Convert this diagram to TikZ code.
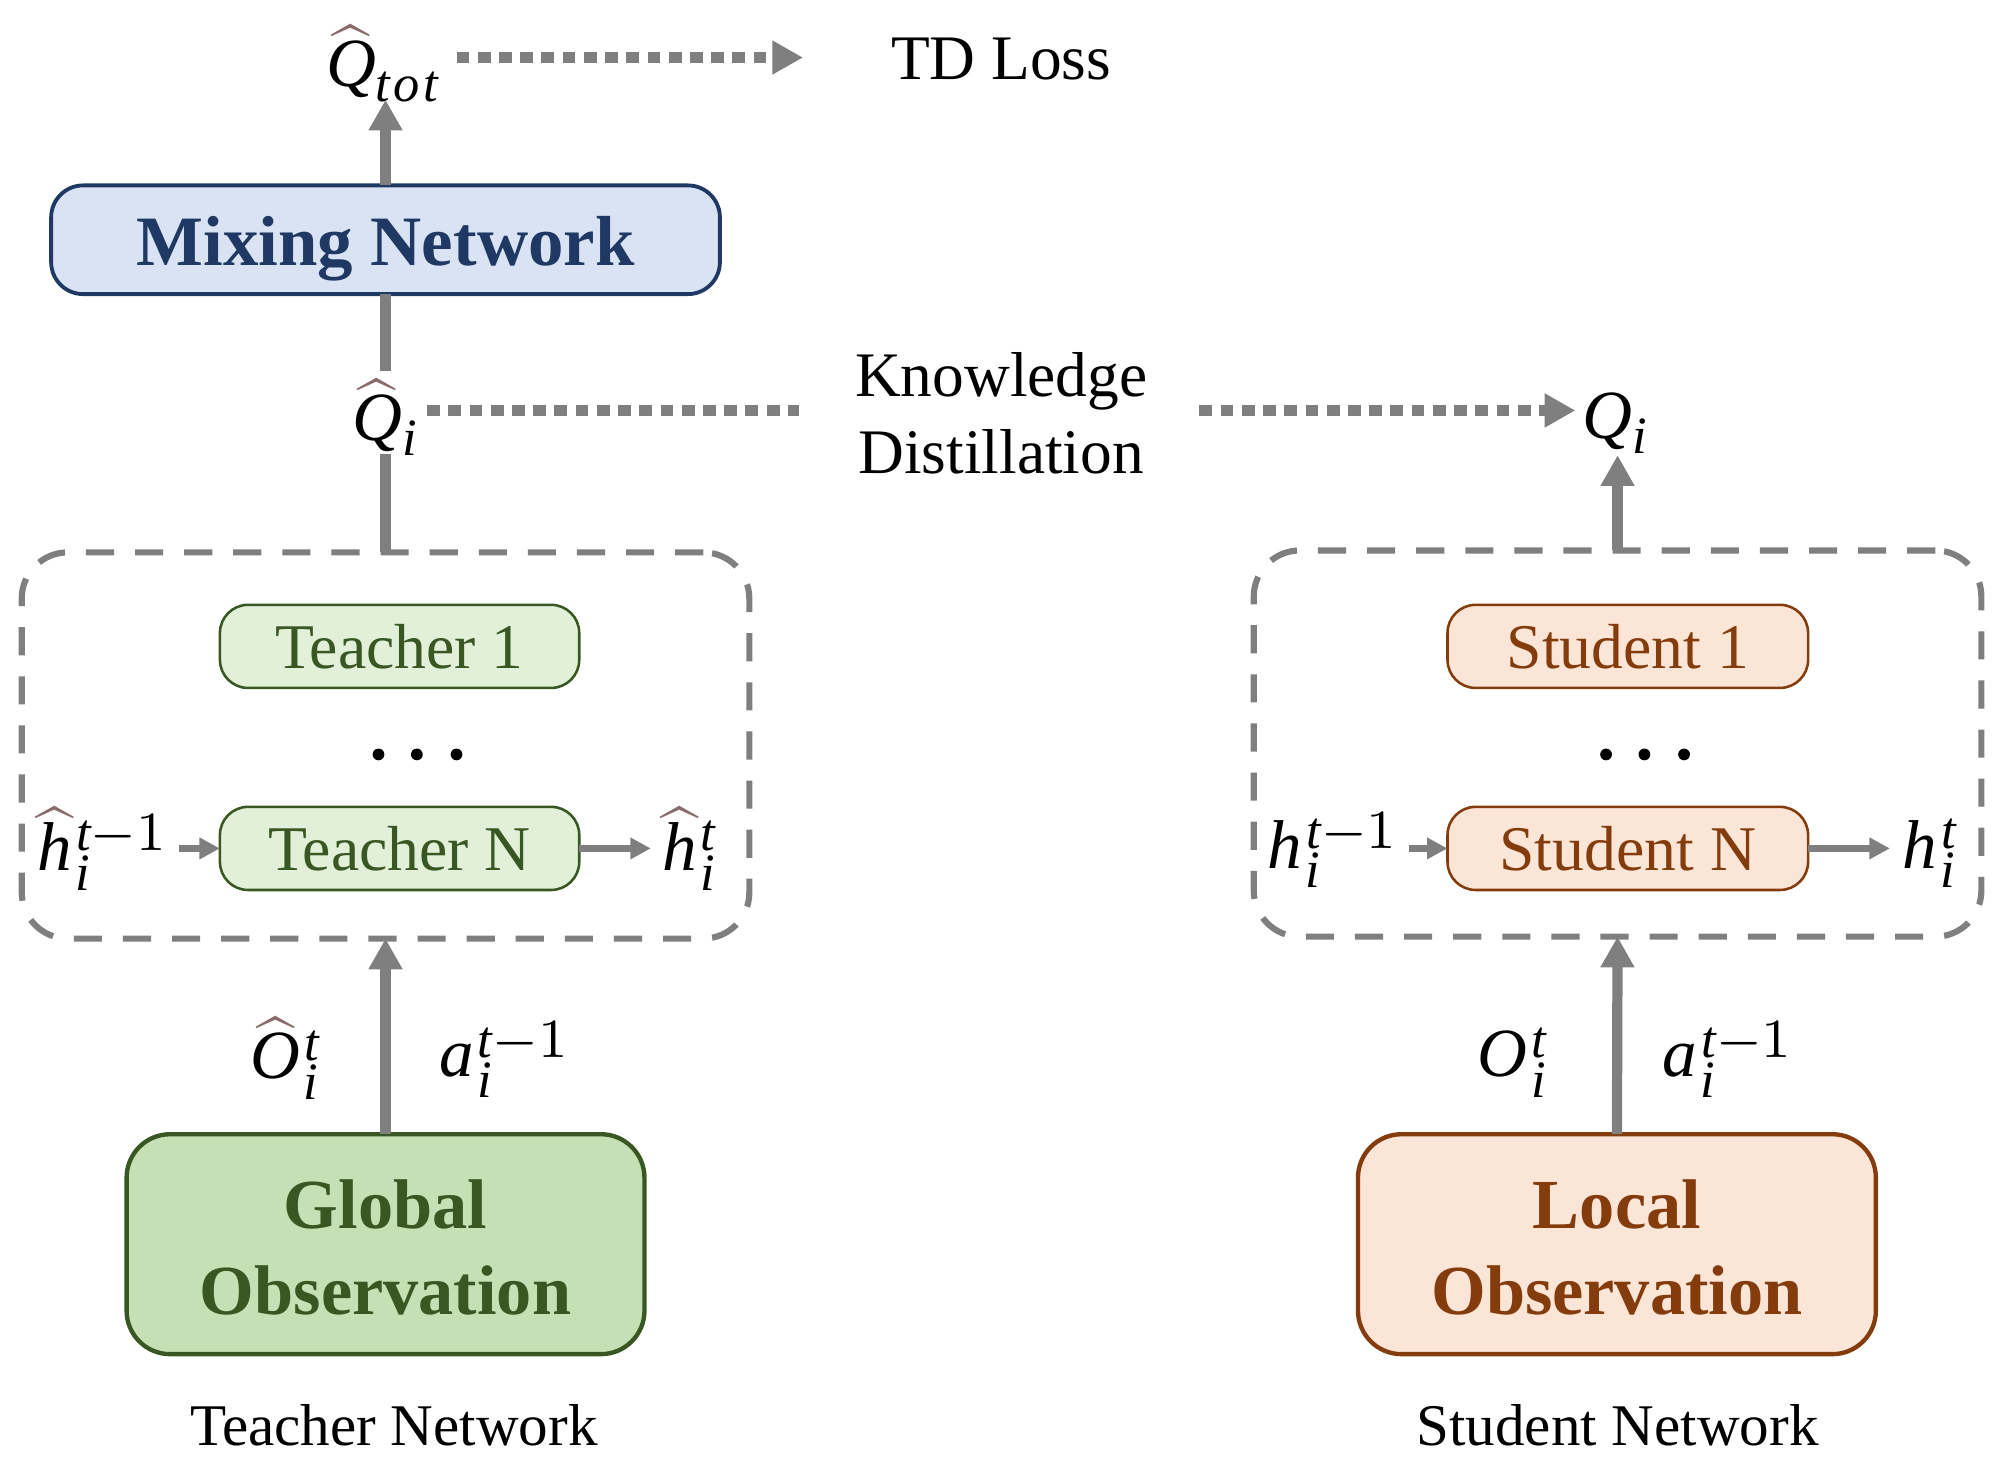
\documentclass[tikz,border=0pt]{standalone}
\usepackage{amsmath}
\usepackage{graphicx}
\usepackage{fontspec}
\setmainfont{Liberation Serif}
\usetikzlibrary{arrows.meta}
\DeclareMathSizes{10}{10}{7.6}{5.5}
\definecolor{navyc}{HTML}{1F3864}
\definecolor{navyf}{HTML}{DAE3F3}
\definecolor{greenc}{HTML}{385723}
\definecolor{greenf}{HTML}{E2F0D9}
\definecolor{greenF}{HTML}{C5E0B4}
\definecolor{brownc}{HTML}{843C0C}
\definecolor{brownf}{HTML}{FBE5D6}
\definecolor{arrowc}{HTML}{7F7F7F}
\definecolor{hatc}{HTML}{8A6A6A}
\newcommand{\hatit}[1]{\rlap{\raisebox{-0.7pt}{$\textcolor{hatc}{\widehat{\phantom{\textit{#1}}}}$}}\textit{#1}}
\newcommand{\mv}[1]{\scalebox{2.7}{$#1$}}
\newcommand{\ti}[1]{\textit{#1}}
\newcommand{\su}[1]{\kern0.6pt\raisebox{-0.9pt}[1ex][0pt]{$\scriptstyle #1$}}
\newcommand{\lowi}[1]{\kern0.5pt\ti{#1}}
\tikzset{
  mathnode/.style={inner sep=0pt,outer sep=0pt},
  lab/.style={inner sep=0pt,outer sep=0pt,font=\fontsize{24.8}{30}\selectfont,align=center},
  caption/.style={inner sep=0pt,outer sep=0pt,font=\fontsize{23.1}{28}\selectfont},
  mixbox/.style={draw=navyc,fill=navyf,line width=1.5pt,rounded corners=12.5pt,minimum width=261.5pt,minimum height=42.5pt,inner sep=0pt,outer sep=0pt,text=navyc,text height=20.5pt,text depth=0pt,font=\fontsize{27.7}{33}\selectfont\bfseries},
  tsmall/.style={draw=greenc,fill=greenf,line width=1pt,rounded corners=11pt,minimum width=140.5pt,minimum height=32.5pt,inner sep=0pt,outer sep=0pt,text=greenc,font=\fontsize{24.9}{29}\selectfont},
  ssmall/.style={draw=brownc,fill=brownf,line width=1pt,rounded corners=11pt,minimum width=141pt,minimum height=32.5pt,inner sep=0pt,outer sep=0pt,text=brownc,font=\fontsize{24.9}{29}\selectfont},
  tbig/.style={draw=greenc,fill=greenF,line width=1.7pt,rounded corners=17pt,minimum width=202.5pt,minimum height=86pt,inner sep=0pt,outer sep=0pt,text=greenc,align=center,text depth=0pt,text height=55pt,font=\fontsize{27.5}{33.5}\selectfont\bfseries},
  sbig/.style={draw=brownc,fill=brownf,line width=1.7pt,rounded corners=17pt,minimum width=202.5pt,minimum height=86pt,inner sep=0pt,outer sep=0pt,text=brownc,align=center,text depth=0pt,text height=55pt,font=\fontsize{27.5}{33.5}\selectfont\bfseries},
  group/.style={draw=arrowc,line width=2.4pt,dash pattern=on 11pt off 8.2pt,rounded corners=18pt,minimum width=284.5pt,minimum height=151pt,inner sep=0pt,outer sep=0pt},
  bigarrow/.style={draw=arrowc,line width=4pt,-{Triangle[width=12.5pt,length=12pt]}},
  plainline/.style={draw=arrowc,line width=4pt},
  smallarrow/.style={draw=arrowc,line width=2.5pt,-{Triangle[width=8pt,length=8pt]}},
  dotline/.style={draw=arrowc,line width=4pt,dash pattern=on 5pt off 3.3pt},
  dotarrow/.style={dotline,-{Triangle[width=12.5pt,length=12pt]}},
  dotc/.style={circle,fill=black,minimum size=4.6pt,inner sep=0pt,outer sep=0pt},
}
\begin{document}
\begin{tikzpicture}[x=0.5pt,y=-0.5pt]
\useasboundingbox (0,0) rectangle (1568,1150);
% boxes
\node[group] (tgroup) at (301.5,583) {};
\node[group] (sgroup) at (1265,581.5) {};
\node[mixbox] (mix) at (301.5,187.5) {Mixing Network};
\node[tsmall] (t1) at (312.5,505.5) {Teacher 1};
\node[tsmall] (tn) at (312.5,663.5) {Teacher N};
\node[ssmall] (s1) at (1273,505.5) {Student 1};
\node[ssmall] (sn) at (1273,663.5) {Student N};
\node[tbig] (global) at (301.5,973) {Global\\Observation};
\node[sbig] (local) at (1264.5,973) {Local\\Observation};
% dots
\node[dotc] (td1) at (296,590) {};
\node[dotc] (td2) at (326,590) {};
\node[dotc] (td3) at (357,590) {};
\node[dotc] (sd1) at (1256,590) {};
\node[dotc] (sd2) at (1286,590) {};
\node[dotc] (sd3) at (1317,590) {};
% texts
\node[lab] (td) at (783,46) {TD Loss};
\node[lab] (kd) at (783,323) {Knowledge\\Distillation};
\node[caption] (tcap) at (308,1114.5) {Teacher Network};
\node[caption] (scap) at (1265,1114.5) {Student Network};
% math
\node[mathnode] (qtot) at (300,50) {\mv{\hatit{Q}_{\ti{t\kern0.06em o\kern0.06em t}}}};
\node[mathnode] (qhi) at (302,327) {\mv{\hatit{Q}_{\ti{i}}}};
\node[mathnode] (qi) at (1264,331) {\mv{\ti{Q}_{\ti{i}}}};
\node[mathnode] (thp) at (81,664) {\mv{\hatit{h}_{\lowi{i}}^{\su{\ti{t}-1}}}};
\node[mathnode] (thn) at (540,664) {\mv{\hatit{h}_{\lowi{i}}^{\su{\ti{t}}}}};
\node[mathnode] (shp) at (1043,664) {\mv{\ti{h}_{\lowi{i}}^{\su{\ti{t}-1}}}};
\node[mathnode] (shn) at (1510,664) {\mv{\ti{h}_{\lowi{i}}^{\su{\ti{t}}}}};
\node[mathnode] (to) at (224,828) {\mv{\hatit{O}_{\lowi{i}}^{\su{\ti{t}}}}};
\node[mathnode] (ta) at (395,828) {\mv{\ti{a}_{\lowi{i}}^{\su{\ti{t}-1}}}};
\node[mathnode] (so) at (1184,828) {\mv{\ti{O}_{\lowi{i}}^{\su{\ti{t}}}}};
\node[mathnode] (sa) at (1352,828) {\mv{\ti{a}_{\lowi{i}}^{\su{\ti{t}-1}}}};
% free ends
\coordinate (qtotin) at (301.5,78);
\coordinate (mixin) at (301.5,290);
\coordinate (qhiout) at (301.5,355);
\coordinate (qiin) at (1265,356);
\coordinate (tdend) at (628,45);
\coordinate (qtotout) at (357,45);
\coordinate (qhiR) at (334,321);
\coordinate (kdL) at (625,321);
\coordinate (kdR) at (938,321);
\coordinate (qiL) at (1232,321);
\coordinate (thpout) at (140,663.5);
\coordinate (thnin) at (509,663.5);
\coordinate (shpout) at (1102,663.5);
\coordinate (shnin) at (1478,663.5);
% connectors
\draw[bigarrow] (mix.north) -- (qtotin);
\draw[plainline] (mix.south) -- (mixin);
\draw[plainline] (tgroup.north) -- (qhiout);
\draw[bigarrow] (sgroup.north) -- (qiin);
\draw[bigarrow] (global.north) -- (tgroup.south);
\draw[bigarrow] (local.north) -- (sgroup.south);
\draw[dotarrow] (qtotout) -- (tdend);
\draw[dotline] (qhiR) -- (kdL);
\draw[dotarrow] (kdR) -- (qiL);
\draw[smallarrow] (thpout) -- (tn.west);
\draw[smallarrow] (tn.east) -- (thnin);
\draw[smallarrow] (shpout) -- (sn.west);
\draw[smallarrow] (sn.east) -- (shnin);
\end{tikzpicture}
\end{document}
